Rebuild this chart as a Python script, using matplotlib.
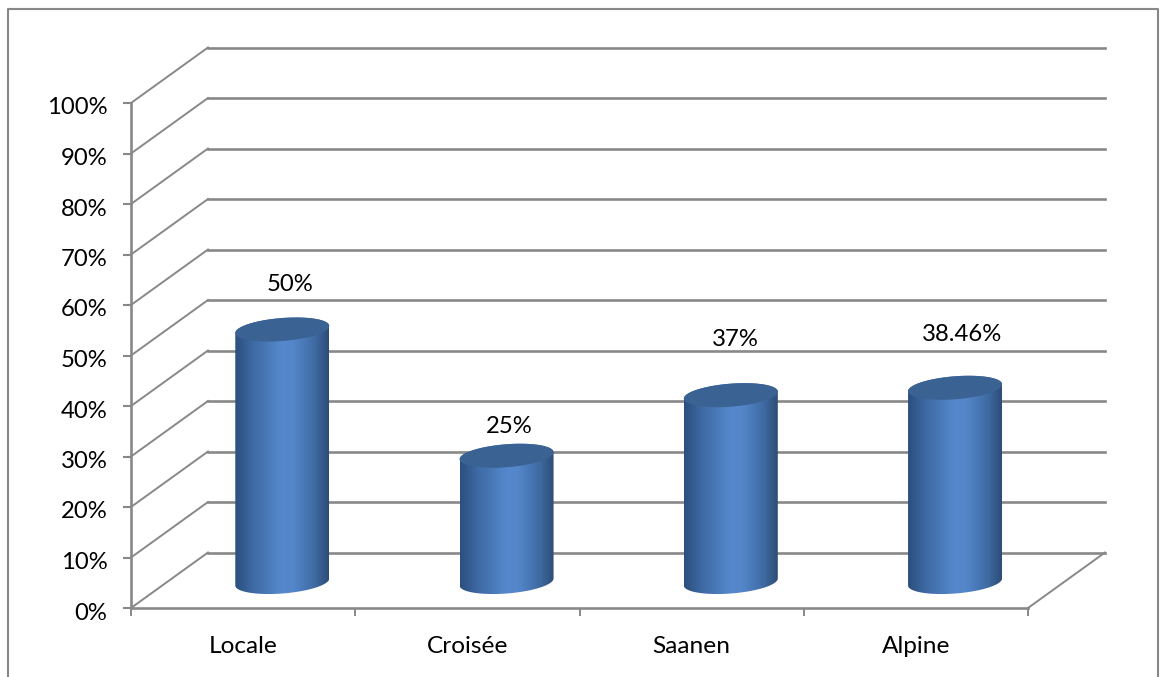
import numpy as np
import matplotlib
matplotlib.use("Agg")
import matplotlib.pyplot as plt
from matplotlib.lines import Line2D
from matplotlib.path import Path
from matplotlib.patches import PathPatch
from matplotlib.colors import LinearSegmentedColormap
from matplotlib.transforms import ScaledTranslation

# data
categories = ['Locale', 'Croisée', 'Saanen', 'Alpine']
values = [50, 25, 37, 38.46]
value_labels = ['50%', '25%', '37%', '38.46%']
y_ticks = list(range(0, 101, 10))

W, H = 1160, 677
grid_col = '#888888'
plt.rcParams['font.family'] = ['Lato', 'DejaVu Sans']

fig = plt.figure(figsize=(W/100., H/100.), dpi=100)
# front plane of the fake 3D box
x0, x1, ytop, ybot = 131, 1028, 103, 608
ax = fig.add_axes([x0/W, 1-ybot/H, (x1-x0)/W, (ybot-ytop)/H])
ax.set_xlim(0, 4)
ax.set_ylim(0, 100)
ax.patch.set_visible(False)

px_x = (x1-x0)/4.      # pixels per category
px_y = (ybot-ytop)/100. # pixels per percent
depth_x = 77/px_x
depth_y = 55.5/px_y

# walls
for v in y_ticks:
    ax.plot([0, depth_x], [v, v+depth_y], color=grid_col, lw=1.4, clip_on=False, zorder=1)
    ax.plot([depth_x, 4+depth_x], [v+depth_y, v+depth_y], color=grid_col, lw=1.9, clip_on=False, zorder=1)
ax.plot([4, 4+depth_x], [0, depth_y], color=grid_col, lw=1.4, clip_on=False, zorder=1)

# axes
for s in ['top', 'right']:
    ax.spines[s].set_visible(False)
for s in ['left', 'bottom']:
    ax.spines[s].set_color(grid_col)
    ax.spines[s].set_linewidth(1.9)
ax.set_yticks(y_ticks)
ax.set_yticklabels(['%d%%' % v for v in y_ticks])
ax.set_xticks(range(5))
ax.set_xticklabels([])
ax.set_xticks(np.arange(4)+0.5, categories, minor=True)
ax.tick_params(axis='y', length=6, width=1.5, color=grid_col, labelsize=17.2, pad=11)
ax.tick_params(axis='x', which='major', length=6, width=1.4, color=grid_col)
ax.tick_params(axis='x', which='minor', length=0, labelsize=17.6, pad=20)

# the % labels sit a little under their ticks
shift = ScaledTranslation(0, -3/100., fig.dpi_scale_trans)
for lab in ax.get_yticklabels():
    lab.set_transform(lab.get_transform() + shift)

# cylinders
cyl_w = 47/px_x
cyl_b = 11.5/px_y
cyl_s = 3.5/px_y
base = 26/px_y
cmap = LinearSegmentedColormap.from_list('cyl', [(0, '#2b4f7e'), (0.2, '#3f6ba6'), (0.5, '#5588cc'),
                                                 (0.62, '#5486c9'), (0.85, '#3f6ba3'), (1, '#2e4c76')])
grad = np.linspace(0, 1, 256).reshape(1, -1)

def ring(cx, cy, t):
    return np.column_stack([cx + cyl_w*np.cos(t), cy + cyl_b*np.sin(t) + cyl_s*np.cos(t)])

label_dx = [8, 3, 5, 6.5]
label_dy = [45, 29, 56, 53]

for i, v in enumerate(values):
    cx = i + 0.5 + depth_x/2 + 0.003
    top = base + v
    low = ring(cx, base, np.linspace(np.pi, 2*np.pi, 60))
    up = ring(cx, top, np.linspace(0, np.pi, 60))
    verts = np.vstack([low, up, low[:1]])
    body = PathPatch(Path(verts), transform=ax.transData, facecolor='none', edgecolor='none')
    ax.add_patch(body)
    im = ax.imshow(grad, cmap=cmap, aspect='auto', zorder=3, interpolation='bilinear',
                   extent=[cx-cyl_w, cx+cyl_w, base-2*cyl_b, top+2*cyl_b])
    im.set_clip_path(body)
    cap = ring(cx, top, np.linspace(0, 2*np.pi, 120))
    ax.fill(cap[:, 0], cap[:, 1], color='#3a6293', lw=0, zorder=4)
    ax.annotate(value_labels[i], (cx, top), xytext=(label_dx[i]*0.72, label_dy[i]*0.72),
                textcoords='offset points', ha='center', va='center', fontsize=17.2, zorder=5)

ax.set_xlim(0, 4)
ax.set_ylim(0, 100)

# outer frame, open at the bottom
fig.add_artist(Line2D([8/W, 8/W, 1158/W, 1158/W], [0, 1-9/H, 1-9/H, 0], color=grid_col, lw=1.5))

fig.savefig('out.png', dpi=100)
